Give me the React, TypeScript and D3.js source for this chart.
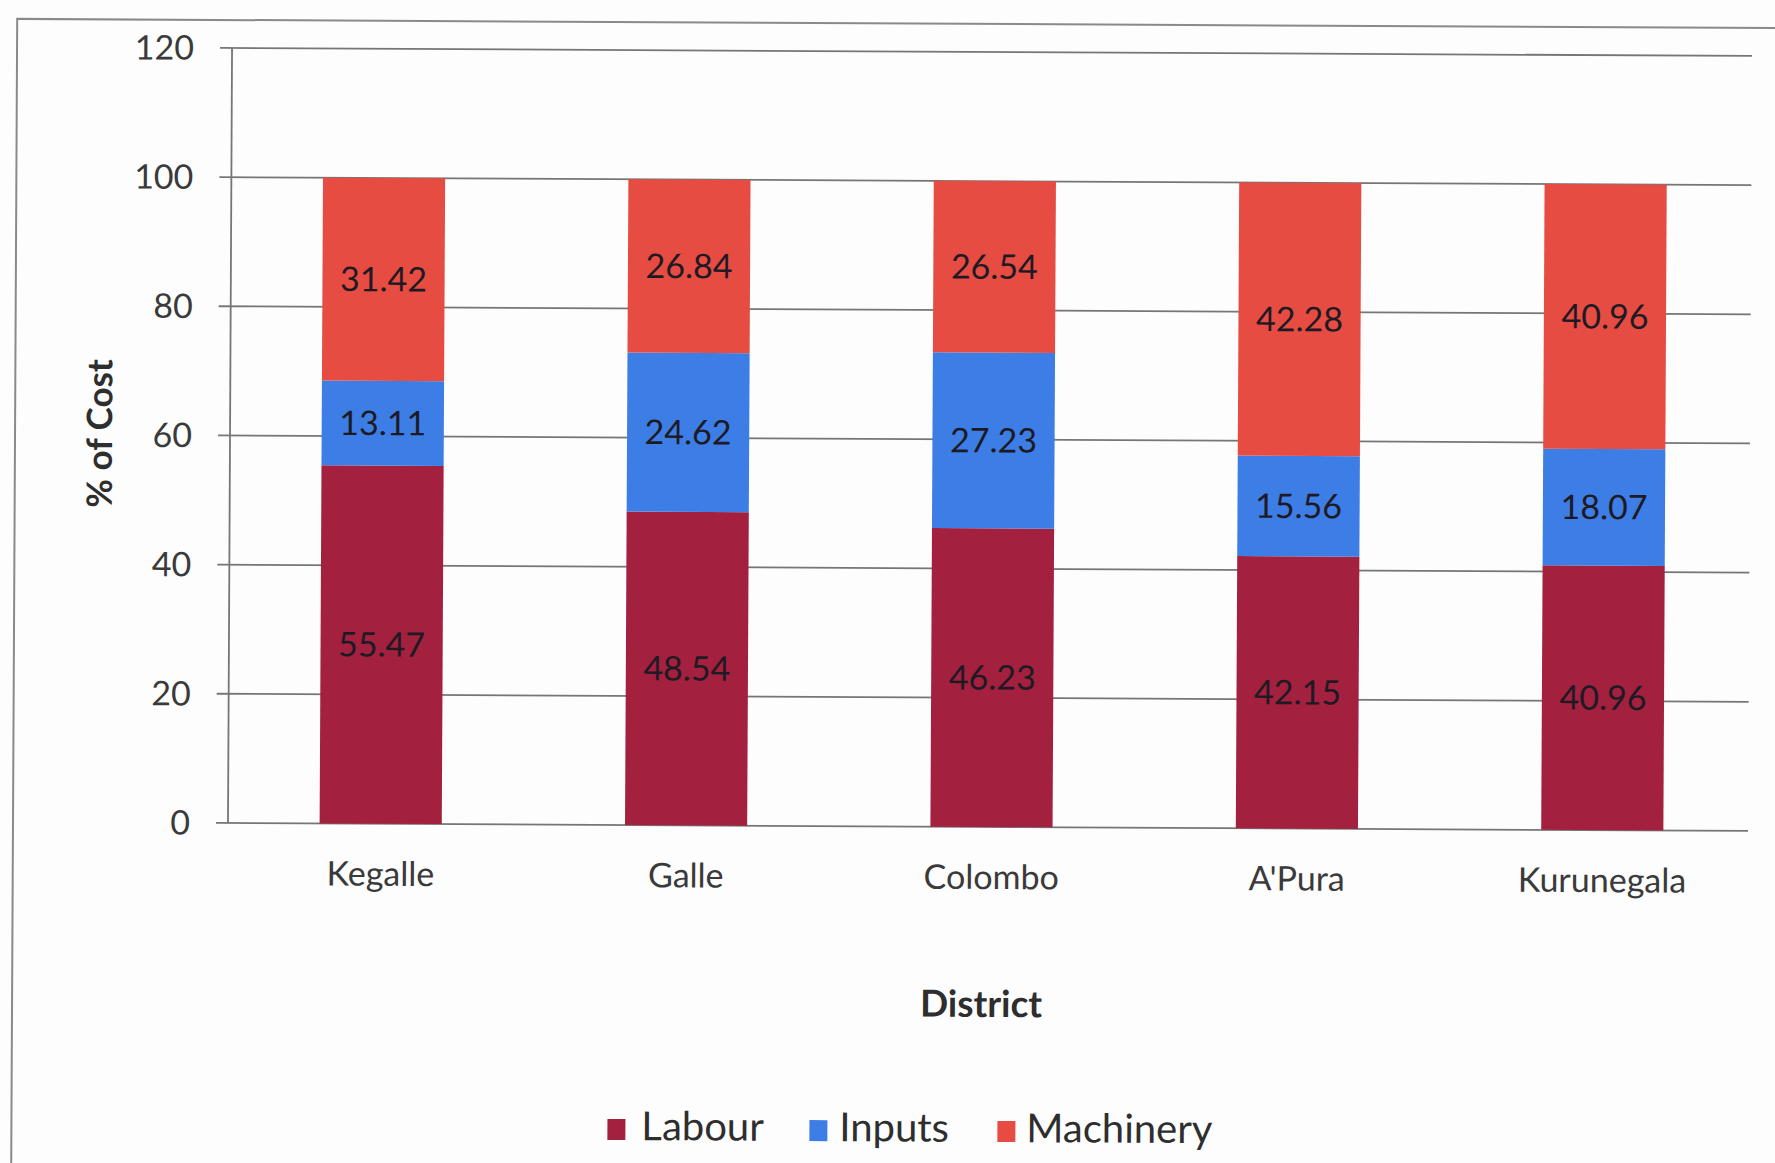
import React from "react";
import * as d3 from "d3";

const districts = ["Kegalle", "Galle", "Colombo", "A'Pura", "Kurunegala"];
const labour = [55.47, 48.54, 46.23, 42.15, 40.96];
const inputs = [13.11, 24.62, 27.23, 15.56, 18.07];
const machinery = [31.42, 26.84, 26.54, 42.28, 40.96];
const seriesNames = ["Labour", "Inputs", "Machinery"];
const seriesColors = ["#A3203E", "#3D7DE6", "#E64C42"];
const yTicks = [0, 20, 40, 60, 80, 100, 120];

const W = 1775;
const H = 1163;
const FONT = "Lato, 'Open Sans', sans-serif";

export default function App() {
  const left = 230, right = 1757, gridRight = 1750, top = 48, bottom = 823;
  const x = d3.scaleBand<string>().domain(districts).range([left, right]).paddingInner(0.6).paddingOuter(0.3);
  const y = d3.scaleLinear().domain([0, 120]).range([bottom, top]);

  const rows = districts.map((d, i) => ({ district: d, Labour: labour[i], Inputs: inputs[i], Machinery: machinery[i] }));
  const stack = d3.stack<any>().keys(seriesNames);
  const layers = stack(rows);

  const legendItems = [
    { name: "Labour", sx: 611, tx: 645 },
    { name: "Inputs", sx: 813, tx: 843 },
    { name: "Machinery", sx: 1001, tx: 1030 },
  ];

  return (
    <svg width={W} height={H} style={{ position: "absolute", left: 0, top: 0, background: "#fdfdfd" }} fontFamily={FONT}>
      <rect x={0} y={0} width={W} height={H} fill="#fdfdfd" />
      <g transform="rotate(0.3 230 440)">
        <rect x={15} y={20} width={1800} height={1200} fill="none" stroke="#8a8a8a" strokeWidth={2} />
        {/* gridlines and ticks */}
        {yTicks.map((t) => (
          <g key={t}>
            <line x1={left - 12} x2={gridRight} y1={y(t)} y2={y(t)} stroke="#767676" strokeWidth={1.8} />
            <text x={192} y={y(t)} dy="0.35em" textAnchor="end" fontSize={34} fill="#3a3a3a">{t}</text>
          </g>
        ))}
        <line x1={left} x2={left} y1={top} y2={bottom} stroke="#767676" strokeWidth={1.8} />
        {/* bars */}
        {layers.map((layer, si) => (
          <g key={layer.key} fill={seriesColors[si]}>
            {layer.map((seg, i) => (
              <rect key={i} x={x(districts[i])} width={x.bandwidth()} y={y(seg[1])} height={y(seg[0]) - y(seg[1])} />
            ))}
          </g>
        ))}
        {/* data labels */}
        {layers.map((layer, si) => (
          <g key={"l" + layer.key}>
            {layer.map((seg, i) => (
              <text key={i} x={(x(districts[i]) as number) + x.bandwidth() / 2} y={y((seg[0] + seg[1]) / 2)} dy="0.35em" textAnchor="middle" fontSize={34} fill="#1e1a24">
                {(seg[1] - seg[0]).toFixed(2)}
              </text>
            ))}
          </g>
        ))}
        {/* category labels */}
        {districts.map((d) => (
          <text key={d} x={(x(d) as number) + x.bandwidth() / 2} y={885} textAnchor="middle" fontSize={34} fill="#3a3a3a">{d}</text>
        ))}
        {/* axis titles */}
        <text x={984} y={1013} textAnchor="middle" fontSize={37} fontWeight="bold" fill="#2e2e2e">District</text>
        <text transform="translate(112 434) rotate(-90)" textAnchor="middle" fontSize={35} fontWeight="bold" fill="#2e2e2e">% of Cost</text>
        {/* legend */}
        {legendItems.map((it, i) => (
          <g key={it.name}>
            <rect x={it.sx} y={1117} width={18} height={21} fill={seriesColors[i]} />
            <text x={it.tx} y={1138} fontSize={40} fill="#2e2e2e">{it.name}</text>
          </g>
        ))}
      </g>
    </svg>
  );
}
